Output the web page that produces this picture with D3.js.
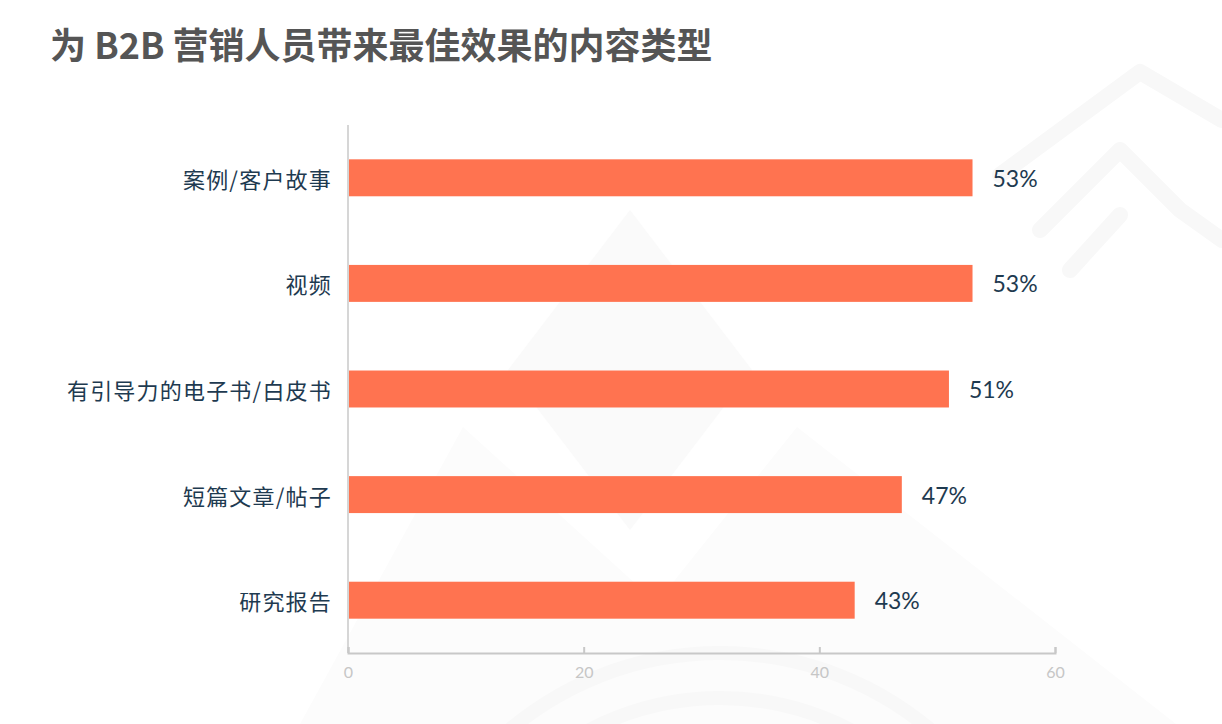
<!DOCTYPE html>
<html>
<head>
<meta charset="utf-8">
<script src="https://cdn.jsdelivr.net/npm/d3@7/dist/d3.min.js"></script>
<style>
  html, body { margin: 0; padding: 0; background: #fff; }
  svg { display: block; }
</style>
</head>
<body>
<svg id="chart" width="1222" height="724"></svg>
<script>
const title = "为 B2B 营销人员带来最佳效果的内容类型";
const categories = ["案例/客户故事", "视频", "有引导力的电子书/白皮书", "短篇文章/帖子", "研究报告"];
const values = [53, 53, 51, 47, 43];
const xTicks = [0, 20, 40, 60];

const W = 1222, H = 724;
const margin = { left: 348, right: 167, top: 125, bottom: 71 };
const svg = d3.select("#chart");

// faint background watermark (decorative)
const wm = svg.append("g").attr("fill", "none");
wm.append("path")
  .attr("d", "M630,210 L752,370 L630,530 L508,370 Z")
  .attr("fill", "#fafafa");
wm.append("path")
  .attr("d", "M463,427 L790,724 L300,724 Z")
  .attr("fill", "#fcfcfc");
wm.append("path")
  .attr("d", "M797,427 L1222,760 L1222,724 L560,724 Z")
  .attr("fill", "#fcfcfc");
[230, 275, 320].forEach(r => {
  wm.append("path")
    .attr("d", d3.arc()({ innerRadius: r, outerRadius: r + 14, startAngle: -0.75, endAngle: 0.75 }))
    .attr("transform", "translate(720,980)")
    .attr("fill", "#f8f8f8");
});
wm.append("path")
  .attr("d", "M1000,175 L1140,72 L1222,120 M1040,230 L1120,150 L1180,210 L1222,240 M1070,270 L1120,215")
  .attr("stroke", "#f8f8f8").attr("stroke-width", 16).attr("stroke-linecap", "round").attr("stroke-linejoin", "round");

// title
svg.append("text")
  .attr("x", 50).attr("y", 59)
  .attr("font-family", "'Noto Sans CJK SC', sans-serif")
  .attr("font-weight", "bold")
  .attr("font-size", 36)
  .attr("fill", "#555555")
  .text(title);

const x = d3.scaleLinear().domain([0, 60]).range([margin.left, W - margin.right]);
const y = d3.scaleBand().domain(categories).range([margin.top, H - margin.bottom]).paddingInner(0.65).paddingOuter(0.325);

// bars
svg.append("g").selectAll("rect")
  .data(categories)
  .join("rect")
  .attr("x", x(0))
  .attr("y", d => y(d))
  .attr("width", (d, i) => x(values[i]) - x(0))
  .attr("height", y.bandwidth())
  .attr("fill", "#ff7350");

// y axis line
svg.append("line")
  .attr("x1", x(0)).attr("x2", x(0))
  .attr("y1", margin.top).attr("y2", H - margin.bottom)
  .attr("stroke", "#d6d6d6").attr("stroke-width", 2);

// x axis
const xAxis = d3.axisBottom(x).tickValues(xTicks).tickSizeInner(-6).tickSizeOuter(-6).tickPadding(14);
const gx = svg.append("g")
  .attr("transform", `translate(0,${H - margin.bottom})`)
  .call(xAxis);
gx.select(".domain").attr("stroke", "#c8c8c8").attr("stroke-width", 2);
gx.selectAll(".tick line").attr("stroke", "#c8c8c8").attr("stroke-width", 2);
gx.selectAll(".tick text")
  .attr("fill", "#c6c6c6")
  .attr("font-family", "Lato, 'Noto Sans', sans-serif")
  .attr("font-size", 16);

// category labels
svg.append("g").selectAll("text")
  .data(categories)
  .join("text")
  .attr("x", x(0) - 16)
  .attr("y", d => y(d) + y.bandwidth() / 2)
  .attr("text-anchor", "end")
  .attr("dominant-baseline", "central")
  .attr("font-family", "'Noto Sans CJK SC', sans-serif")
  .attr("font-size", 22)
  .attr("letter-spacing", 1.2)
  .attr("fill", "#1e3a50")
  .text(d => d);

// value labels
svg.append("g").selectAll("text")
  .data(categories)
  .join("text")
  .attr("x", (d, i) => x(values[i]) + 20)
  .attr("y", d => y(d) + y.bandwidth() / 2)
  .attr("dominant-baseline", "central")
  .attr("font-family", "Lato, 'Noto Sans', sans-serif")
  .attr("font-size", 23)
  .attr("fill", "#1e3a50")
  .text((d, i) => values[i] + "%");
</script>
</body>
</html>
